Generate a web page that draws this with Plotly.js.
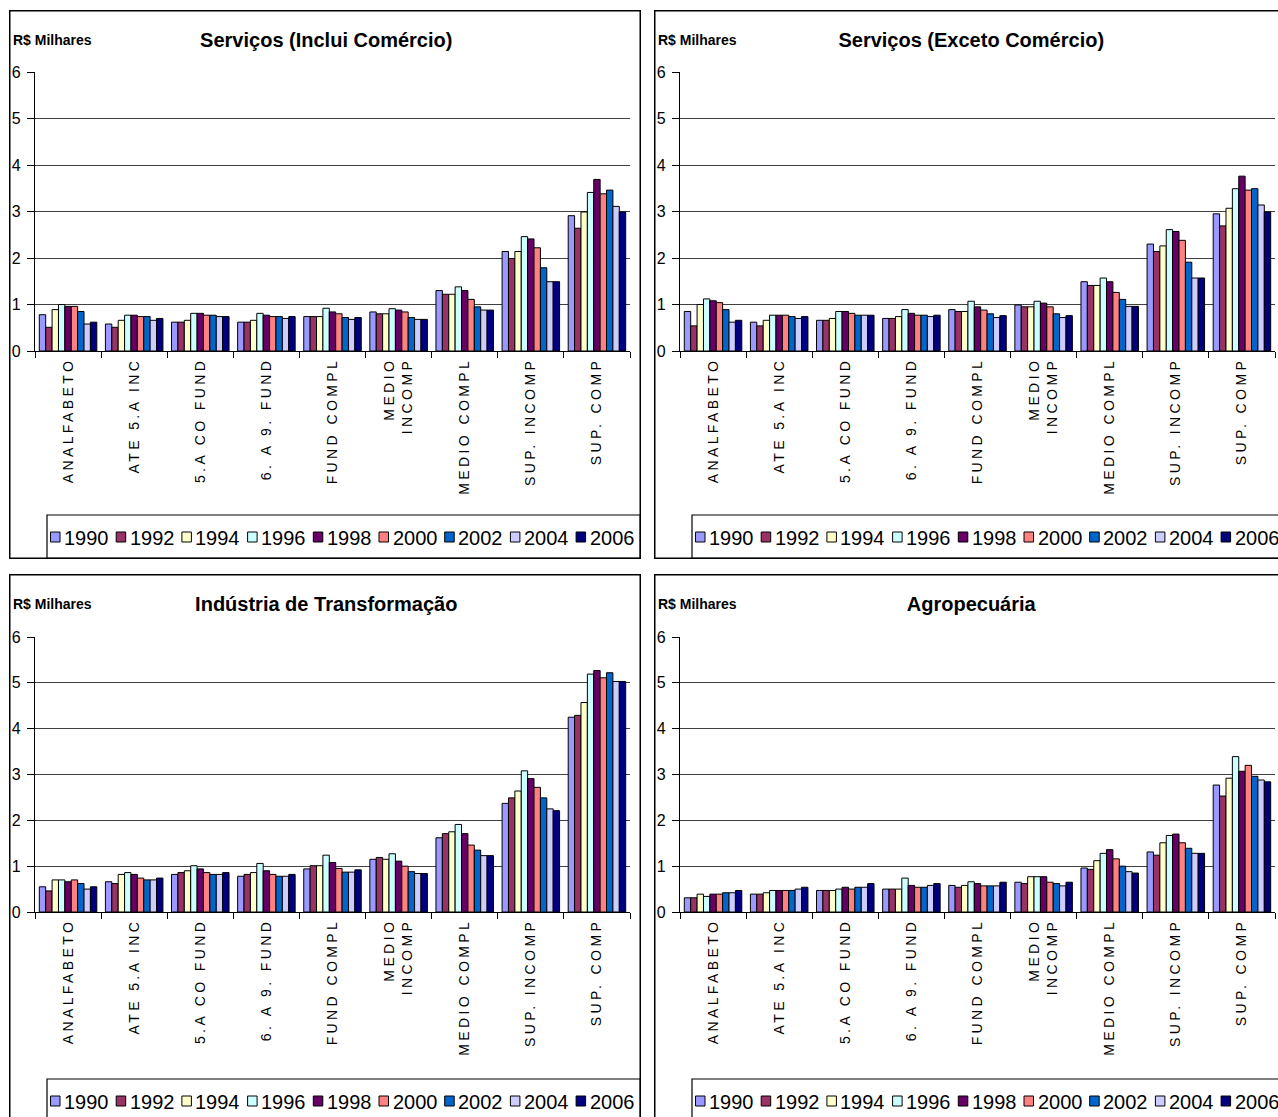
<!DOCTYPE html>
<html>
<head>
<meta charset="utf-8">
<script src="https://cdn.plot.ly/plotly-3.0.1.min.js"></script>
<style>
  html, body { margin: 0; padding: 0; background: #fff; overflow: hidden; width: 1278px; height: 1117px; }
  .panel { position: absolute; }
  .xtick text { letter-spacing: 3.4px; }
</style>
</head>
<body>
<div id="p1" class="panel"></div>
<div id="p2" class="panel"></div>
<div id="p3" class="panel"></div>
<div id="p4" class="panel"></div>
<script>
// ---------- DATA ----------
const categories = ['ANALFABETO', 'ATE 5.A INC', '5.A CO FUND', '6. A 9. FUND', 'FUND COMPL',
                    'MEDIO<br>INCOMP', 'MEDIO COMPL', 'SUP. INCOMP', 'SUP. COMP'];
const years = ['1990', '1992', '1994', '1996', '1998', '2000', '2002', '2004', '2006'];
const yearColors = ['#9999FF', '#993366', '#FFFFCC', '#CCFFFF', '#660066', '#FF8080', '#0066CC', '#CCCCFF', '#000080'];
const yTicks = [0, 1, 2, 3, 4, 5, 6];

// rows = categories, columns = years (1990 ... 2006), R$ milhares
const servicosInclui = [
  [0.78, 0.51, 0.89, 1.00, 0.96, 0.96, 0.85, 0.58, 0.62],
  [0.58, 0.51, 0.66, 0.77, 0.77, 0.74, 0.74, 0.66, 0.70],
  [0.62, 0.62, 0.66, 0.81, 0.81, 0.77, 0.77, 0.74, 0.74],
  [0.62, 0.62, 0.66, 0.81, 0.77, 0.74, 0.74, 0.70, 0.74],
  [0.74, 0.74, 0.74, 0.92, 0.84, 0.80, 0.72, 0.68, 0.72],
  [0.84, 0.80, 0.80, 0.91, 0.88, 0.84, 0.72, 0.68, 0.68],
  [1.30, 1.22, 1.22, 1.38, 1.30, 1.11, 0.95, 0.88, 0.88],
  [2.14, 1.99, 2.14, 2.46, 2.41, 2.22, 1.79, 1.49, 1.49],
  [2.91, 2.64, 2.99, 3.41, 3.69, 3.38, 3.46, 3.11, 2.99]
];
const servicosExceto = [
  [0.85, 0.54, 1.00, 1.12, 1.08, 1.04, 0.89, 0.62, 0.66],
  [0.62, 0.54, 0.66, 0.77, 0.77, 0.77, 0.74, 0.70, 0.74],
  [0.66, 0.66, 0.70, 0.85, 0.85, 0.81, 0.77, 0.77, 0.77],
  [0.70, 0.70, 0.74, 0.89, 0.81, 0.77, 0.77, 0.74, 0.77],
  [0.89, 0.85, 0.85, 1.07, 0.95, 0.88, 0.80, 0.72, 0.76],
  [0.99, 0.95, 0.95, 1.07, 1.03, 0.95, 0.80, 0.72, 0.76],
  [1.49, 1.41, 1.41, 1.57, 1.49, 1.26, 1.11, 0.96, 0.96],
  [2.30, 2.14, 2.26, 2.61, 2.57, 2.38, 1.91, 1.57, 1.57],
  [2.95, 2.69, 3.07, 3.49, 3.76, 3.46, 3.49, 3.14, 2.99]
];
const industria = [
  [0.55, 0.46, 0.70, 0.70, 0.66, 0.70, 0.62, 0.50, 0.55],
  [0.66, 0.62, 0.82, 0.86, 0.82, 0.74, 0.70, 0.70, 0.74],
  [0.82, 0.86, 0.90, 1.01, 0.94, 0.86, 0.82, 0.82, 0.86],
  [0.78, 0.82, 0.86, 1.06, 0.90, 0.82, 0.78, 0.78, 0.82],
  [0.94, 1.01, 1.01, 1.24, 1.08, 0.95, 0.87, 0.87, 0.92],
  [1.15, 1.19, 1.15, 1.27, 1.11, 1.00, 0.88, 0.84, 0.84],
  [1.62, 1.71, 1.75, 1.91, 1.71, 1.46, 1.35, 1.23, 1.23],
  [2.37, 2.49, 2.64, 3.08, 2.91, 2.72, 2.49, 2.25, 2.21],
  [4.25, 4.29, 4.57, 5.19, 5.27, 5.11, 5.22, 5.03, 5.03]
];
const agropecuaria = [
  [0.31, 0.31, 0.39, 0.34, 0.39, 0.39, 0.42, 0.42, 0.47],
  [0.39, 0.39, 0.42, 0.47, 0.47, 0.47, 0.47, 0.50, 0.54],
  [0.47, 0.47, 0.47, 0.50, 0.54, 0.50, 0.54, 0.54, 0.62],
  [0.50, 0.50, 0.50, 0.74, 0.58, 0.54, 0.54, 0.58, 0.62],
  [0.58, 0.54, 0.58, 0.66, 0.62, 0.57, 0.57, 0.57, 0.65],
  [0.65, 0.62, 0.77, 0.77, 0.77, 0.65, 0.62, 0.57, 0.65],
  [0.96, 0.93, 1.12, 1.28, 1.36, 1.16, 1.00, 0.88, 0.85],
  [1.31, 1.24, 1.51, 1.67, 1.70, 1.51, 1.39, 1.28, 1.28],
  [2.77, 2.53, 2.92, 3.39, 3.07, 3.20, 2.96, 2.88, 2.84]
];

const titles = ['Serviços (Inclui Comércio)', 'Serviços (Exceto Comércio)', 'Indústria de Transformação', 'Agropecuária'];
const unitLabel = 'R$ Milhares';

// ---------- DRAWING ----------
const FONT = '"Liberation Sans", Arial, sans-serif';

const W = 632, H = 549;
const panels = [
  { id: 'p1', left: 9,   top: 10,  data: servicosInclui, title: titles[0], t: 62, b: 208 },
  { id: 'p2', left: 654, top: 10,  data: servicosExceto, title: titles[1], t: 62, b: 208 },
  { id: 'p3', left: 9,   top: 574, data: industria,      title: titles[2], t: 63, b: 211 },
  { id: 'p4', left: 654, top: 574, data: agropecuaria,   title: titles[3], t: 63, b: 211 }
];

panels.forEach(p => {
  const el = document.getElementById(p.id);
  el.style.left = p.left + 'px';
  el.style.top = p.top + 'px';
  el.style.width = W + 'px';
  el.style.height = H + 'px';

  const l = 26, r = 11;
  const pw = W - l - r, ph = H - p.t - p.b;
  const px = x => (x - l) / pw;           // panel px -> paper x
  const py = y => (H - p.b - y) / ph;     // panel px -> paper y

  const traces = years.map((yr, j) => ({
    type: 'bar',
    name: yr,
    x: categories,
    y: p.data.map(row => row[j]),
    marker: { color: yearColors[j], line: { color: '#000', width: 1 } },
    showlegend: false,
    hoverinfo: 'skip'
  }));

  const shapes = [
    // panel frame
    { type: 'rect', xref: 'paper', yref: 'paper', x0: px(0.75), x1: px(W - 0.75), y0: py(0.75), y1: py(H - 0.75),
      line: { color: '#000', width: 1.5 }, fillcolor: 'rgba(0,0,0,0)' },
    // legend box
    { type: 'rect', xref: 'paper', yref: 'paper', x0: px(38), x1: px(W - 0.75), y0: py(505), y1: py(H - 0.75),
      line: { color: '#000', width: 1.2 }, fillcolor: 'rgba(0,0,0,0)' }
  ];
  const annotations = [
    { text: '<b>' + unitLabel + '</b>', xref: 'paper', yref: 'paper', x: px(2), y: py(30),
      xanchor: 'left', yanchor: 'middle', showarrow: false,
      font: { family: FONT, size: 14, color: '#000' } }
  ];
  const pitch = 65.7, sx0 = 41.5, sy = 527;
  years.forEach((yr, j) => {
    const sx = sx0 + j * pitch;
    shapes.push({ type: 'rect', xref: 'paper', yref: 'paper',
      x0: px(sx), x1: px(sx + 9.5), y0: py(sy + 5), y1: py(sy - 5),
      fillcolor: yearColors[j], line: { color: '#000', width: 1 } });
    annotations.push({ text: yr, xref: 'paper', yref: 'paper', x: px(sx + 11.5), y: py(sy + 1),
      xanchor: 'left', yanchor: 'middle', showarrow: false,
      font: { family: FONT, size: 20, color: '#000' } });
  });

  const layout = {
    width: W, height: H,
    margin: { l: l, r: r, t: p.t, b: p.b, pad: 0 },
    paper_bgcolor: '#fff', plot_bgcolor: '#fff',
    barmode: 'group', bargap: 0.13, bargroupgap: 0,
    title: { text: '<b>' + p.title + '</b>', x: 0.502, xref: 'container', xanchor: 'center',
             y: 1 - 30 / H, yref: 'container', yanchor: 'middle',
             font: { family: FONT, size: 20, color: '#000' } },
    xaxis: {
      type: 'category', tickson: 'boundaries', ticks: 'outside', ticklen: 6, tickcolor: '#000', tickwidth: 1,
      showline: true, linecolor: '#000', linewidth: 1.2, showgrid: false, zeroline: false,
      tickangle: -90, tickfont: { family: FONT, size: 14, color: '#000' }, automargin: false
    },
    yaxis: {
      range: [0, 6], tickvals: yTicks, ticks: 'outside', ticklen: 7, tickcolor: '#000',
      showline: true, linecolor: '#000', linewidth: 1.2, showgrid: true, gridcolor: '#404040', gridwidth: 1,
      zeroline: false, ticklabelstandoff: 3,
      tickfont: { family: FONT, size: 16, color: '#000' }, automargin: false
    },
    shapes: shapes,
    annotations: annotations,
    font: { family: FONT, color: '#000' }
  };
  Plotly.newPlot(el, traces, layout, { staticPlot: true, displayModeBar: false });
});
</script>
</body>
</html>
